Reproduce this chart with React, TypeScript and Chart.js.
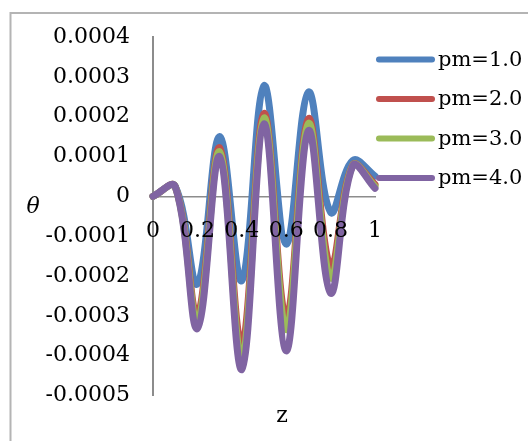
import React, { useEffect, useRef } from 'react';
import { Chart, registerables } from 'chart.js';

Chart.register(...registerables);

// ---- data ----
const zValues = [0, 0.1, 0.2, 0.3, 0.4, 0.5, 0.6, 0.7, 0.8, 0.9, 1.0];
const seriesNames = ['pm=1.0', 'pm=2.0', 'pm=3.0', 'pm=4.0'];
const pm1 = [0, 0.000025, -0.00022, 0.00015, -0.000212, 0.000278, -0.00012, 0.000262, -0.00004, 0.00009, 0.000051];
const pm2 = [0, 0.000025, -0.000295, 0.000122, -0.00037, 0.000208, -0.000305, 0.000195, -0.000175, 0.000079, 0.00003];
const pm3 = [0, 0.000025, -0.000312, 0.000112, -0.000405, 0.000197, -0.000335, 0.000183, -0.000205, 0.000078, 0.000025];
const pm4 = [0, 0.000025, -0.000332, 0.0001, -0.000435, 0.000182, -0.000388, 0.000165, -0.000243, 0.000077, 0.00002];
const seriesValues = [pm1, pm2, pm3, pm4];
const seriesColors = ['#4F81BD', '#C0504D', '#9BBB59', '#8064A2'];
const yMin = -0.0005;
const yMax = 0.0004;
const yStep = 0.0001;
const xMin = 0;
const xMax = 1;
const xStep = 0.2;
const xTitle = 'z';
const yTitle = 'θ';

const FONT = '"DejaVu Serif", serif';

const framePlugin = {
  id: 'frame',
  beforeDraw(chart: any) {
    const ctx = chart.ctx;
    ctx.save();
    ctx.fillStyle = '#ffffff';
    ctx.fillRect(0, 0, chart.width, chart.height);
    ctx.strokeStyle = '#b4b4b4';
    ctx.lineWidth = 2;
    ctx.strokeRect(10.5, 13, chart.width + 20, chart.height + 20);
    ctx.restore();
  },
};

const titlesPlugin = {
  id: 'axisTitles',
  afterDraw(chart: any) {
    const ctx = chart.ctx;
    ctx.save();
    ctx.fillStyle = '#000';
    ctx.textAlign = 'center';
    ctx.textBaseline = 'middle';
    ctx.font = `italic 22px ${FONT}`;
    ctx.fillText(yTitle, 33, 207);
    ctx.font = `22px ${FONT}`;
    ctx.fillText(xTitle, 282, 416);
    ctx.restore();
  },
};

const legendPlugin = {
  id: 'customLegend',
  afterDraw(chart: any) {
    const ctx = chart.ctx;
    ctx.save();
    ctx.font = `21px ${FONT}`;
    ctx.textAlign = 'left';
    ctx.textBaseline = 'middle';
    seriesNames.forEach((name, i) => {
      const y = 59.5 + i * 39.5;
      ctx.strokeStyle = seriesColors[i];
      ctx.lineWidth = 6;
      ctx.lineCap = 'round';
      ctx.beginPath();
      ctx.moveTo(379, y);
      ctx.lineTo(432, y);
      ctx.stroke();
      ctx.fillStyle = '#000';
      ctx.fillText(name, 438, y + 1);
    });
    ctx.restore();
  },
};

export default function App() {
  const canvasRef = useRef<HTMLCanvasElement | null>(null);

  useEffect(() => {
    if (!canvasRef.current) return;
    const datasets = seriesValues.map((vals, i) => ({
      label: seriesNames[i],
      data: zValues.map((z, j) => ({ x: z, y: vals[j] })),
      borderColor: seriesColors[i],
      backgroundColor: seriesColors[i],
      borderWidth: 7,
      pointRadius: 0,
      pointHoverRadius: 0,
      tension: 0.38,
      fill: false,
      clip: false as any,
      order: seriesValues.length - 1 - i,
      borderCapStyle: 'round' as const,
      borderJoinStyle: 'round' as const,
    }));

    const chart = new Chart(canvasRef.current, {
      type: 'line',
      data: { datasets },
      options: {
        responsive: false,
        animation: false,
        devicePixelRatio: 1,
        layout: { padding: { left: 0, right: 153, top: 37, bottom: 45.5 } },
        plugins: {
          legend: { display: false },
          tooltip: { enabled: false },
          title: { display: false },
        },
        scales: {
          x: {
            type: 'linear',
            position: { y: 0 } as any,
            min: xMin,
            max: xMax,
            ticks: {
              stepSize: xStep,
              padding: 22,
              color: '#000',
              font: { family: FONT, size: 22 },
              maxRotation: 0,
              autoSkip: false,
              z: 1,
              callback: (v: any) => String(Math.round(Number(v) * 10) / 10),
            },
            grid: { display: false, drawTicks: false },
            border: { display: true, color: '#8c8c8c', width: 1.5 },
          },
          y: {
            type: 'linear',
            position: 'left',
            min: yMin,
            max: yMax,
            afterFit: (s: any) => {
              s.width = 153;
            },
            ticks: {
              stepSize: yStep,
              padding: 23,
              color: '#000',
              font: { family: FONT, size: 22 },
              autoSkip: false,
              callback: (v: any) => {
                const n = Number(v);
                if (Math.abs(n) < 1e-12) return '0';
                return n.toFixed(4);
              },
            },
            grid: { display: false, drawTicks: false },
            border: { display: true, color: '#8c8c8c', width: 2 },
          },
        },
      },
      plugins: [framePlugin, titlesPlugin, legendPlugin],
    });
    return () => chart.destroy();
  }, []);

  return (
    <div style={{ position: 'absolute', left: 0, top: 0, width: 528, height: 441 }}>
      <canvas ref={canvasRef} width={528} height={441} style={{ display: 'block', width: 528, height: 441 }} />
    </div>
  );
}
